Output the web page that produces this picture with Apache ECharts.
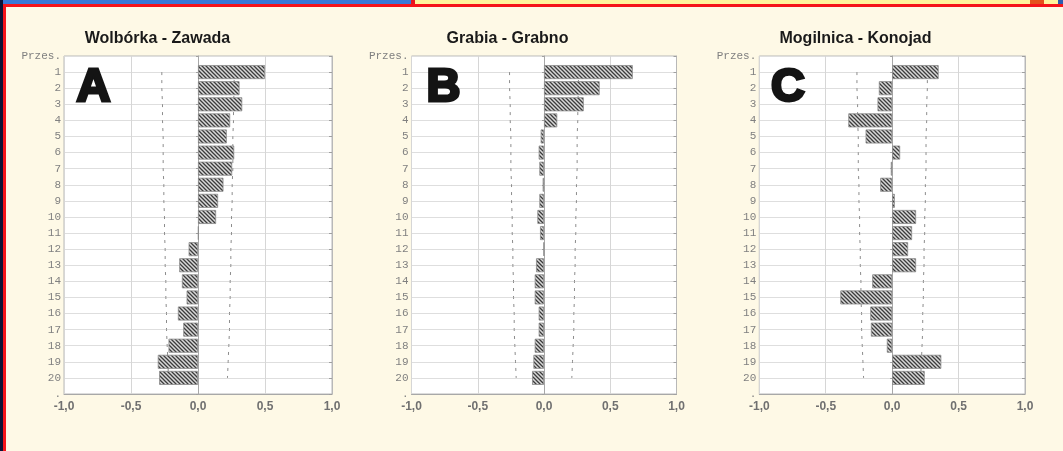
<!DOCTYPE html>
<html>
<head>
<meta charset="utf-8">
<script src="https://cdn.jsdelivr.net/npm/echarts@6/dist/echarts.min.js"></script>
<style>
html,body{margin:0;padding:0;background:#fef9e6;}
#chart{width:1063px;height:451px;}
</style>
</head>
<body>
<div id="chart"></div>
<script>
// ---- data ----
const lagLabels = ['Przes.','1','2','3','4','5','6','7','8','9','10','11','12','13','14','15','16','17','18','19','20','.'];
const xTickLabels = ['-1,0','-0,5','0,0','0,5','1,0'];
const titles = ['Wolbórka - Zawada','Grabia - Grabno','Mogilnica - Konojad'];
const panelLetters = ['A','B','C'];

const acfA = [0.50,0.31,0.33,0.24,0.215,0.27,0.255,0.19,0.15,0.135,0.005,-0.07,-0.14,-0.12,-0.085,-0.15,-0.11,-0.22,-0.30,-0.29];
const acfB = [0.67,0.42,0.30,0.10,-0.025,-0.04,-0.035,-0.01,-0.035,-0.05,-0.03,-0.003,-0.06,-0.07,-0.07,-0.04,-0.04,-0.07,-0.08,-0.09];
const acfC = [0.35,-0.10,-0.11,-0.33,-0.20,0.06,-0.01,-0.09,0.02,0.18,0.15,0.12,0.18,-0.15,-0.39,-0.165,-0.16,-0.04,0.37,0.245];

const boundA = [0.27,0.27,0.265,0.265,0.26,0.26,0.26,0.255,0.255,0.25,0.25,0.245,0.245,0.24,0.24,0.235,0.235,0.23,0.225,0.22];
const boundB = [0.26,0.26,0.255,0.255,0.25,0.25,0.25,0.245,0.245,0.24,0.24,0.235,0.235,0.23,0.23,0.225,0.225,0.22,0.215,0.21];
const boundC = [0.265,0.265,0.26,0.26,0.255,0.255,0.255,0.25,0.25,0.245,0.245,0.24,0.24,0.235,0.235,0.23,0.23,0.225,0.22,0.215];

const acfs = [acfA, acfB, acfC];
const bounds = [boundA, boundB, boundC];

// ---- styling / layout ----
function hatch(){
  const c = document.createElement('canvas');
  c.width = 4; c.height = 4;
  const g = c.getContext('2d');
  g.fillStyle = '#d8d8d8'; g.fillRect(0,0,4,4);
  g.strokeStyle = '#3c3c3c'; g.lineWidth = 1.3;
  g.beginPath();
  g.moveTo(0,0); g.lineTo(4,4);
  g.moveTo(-2,2); g.lineTo(2,6);
  g.moveTo(2,-2); g.lineTo(6,2);
  g.stroke();
  return c;
}
const pattern = {image: hatch(), repeat: 'repeat'};

const gridLefts = [64, 411.5, 759.3];
const gridWidths = [268, 265, 265.7];
const titleX = [157.5, 507.5, 855.5];
const letterX = [93.5, 443.5, 788];

const grids = [], xAxes = [], yAxes = [], series = [], graphics = [];
function pad(arr){ return ['-'].concat(arr, ['-']); }

for (let i = 0; i < 3; i++) {
  grids.push({left: gridLefts[i], top: 56, width: gridWidths[i], height: 338,
    show: true, backgroundColor: '#ffffff', borderColor: '#b8b8b8', borderWidth: 1, containLabel: false});
  xAxes.push({type: 'value', gridIndex: i, min: -1, max: 1, interval: 0.5,
    axisLine: {show: true, lineStyle: {color: '#a8a8a8'}},
    axisTick: {show: false},
    splitLine: {show: true, lineStyle: {color: '#d6d6d6', width: 1}},
    axisLabel: {color: '#707070', fontSize: 12, fontWeight: 'bold', fontFamily: 'Liberation Sans, Arial, sans-serif', margin: 7,
      formatter: v => xTickLabels[Math.round((v + 1) / 0.5)]}});
  yAxes.push({type: 'category', gridIndex: i, data: lagLabels, inverse: true, boundaryGap: false,
    axisLine: {show: true, lineStyle: {color: '#a8a8a8'}},
    axisTick: {show: true, length: 2, interval: 0, lineStyle: {color: '#a0a0a0'}},
    splitLine: {show: true, interval: 0, lineStyle: {color: '#dedede', width: 1}},
    axisLabel: {interval: 0, color: '#808080', fontSize: 11, fontFamily: 'Liberation Mono, Courier New, monospace', margin: 3}});
  yAxes.push({type: 'category', gridIndex: i, data: lagLabels, inverse: true, boundaryGap: false, position: 'right',
    axisLine: {show: true, lineStyle: {color: '#b8b8b8'}},
    axisTick: {show: true, inside: true, length: 3, interval: 0, lineStyle: {color: '#a0a0a0'}},
    splitLine: {show: false}, axisLabel: {show: false}});

  const lineStyle = {color: '#8c8c8c', width: 1, type: [3, 5]};
  series.push({type: 'line', xAxisIndex: i, yAxisIndex: 2 * i, data: pad(bounds[i]),
    symbol: 'none', lineStyle: lineStyle, silent: true, z: 2});
  series.push({type: 'line', xAxisIndex: i, yAxisIndex: 2 * i, data: pad(bounds[i].map(v => -v)),
    symbol: 'none', lineStyle: lineStyle, silent: true, z: 2});
  series.push({type: 'bar', xAxisIndex: i, yAxisIndex: 2 * i, data: pad(acfs[i]),
    barWidth: 14, itemStyle: {color: pattern, borderColor: '#8a8a8a', borderWidth: 0.8}, z: 3});

  graphics.push({type: 'text', x: titleX[i], y: 39, style: {text: titles[i], fill: '#1a1a1a',
    font: 'bold 16px "Liberation Sans", Arial, sans-serif', textAlign: 'center', textVerticalAlign: 'middle'}, z: 10});
  graphics.push({type: 'text', x: letterX[i], y: 88.5, style: {text: panelLetters[i], fill: '#141414',
    stroke: '#141414', lineWidth: 3,
    font: 'bold 47px "Liberation Sans", Arial, sans-serif', textAlign: 'center', textVerticalAlign: 'middle'}, z: 10});
}

// frame decorations
graphics.push(
  {type: 'rect', shape: {x: 0, y: 0, width: 411, height: 4}, style: {fill: '#3a78d6'}, z: 20},
  {type: 'rect', shape: {x: 411, y: 0, width: 4, height: 5}, style: {fill: '#e8141c'}, z: 20},
  {type: 'rect', shape: {x: 415, y: 0, width: 648, height: 4}, style: {fill: '#fff49e'}, z: 20},
  {type: 'rect', shape: {x: 1030, y: 0, width: 14, height: 4}, style: {fill: '#e5501c'}, z: 21},
  {type: 'rect', shape: {x: 1058, y: 0, width: 5, height: 4}, style: {fill: '#2c5cb0'}, z: 21},
  {type: 'rect', shape: {x: 0, y: 4, width: 1063, height: 3}, style: {fill: '#f5141a'}, z: 20},
  {type: 'rect', shape: {x: 0, y: 0, width: 3, height: 451}, style: {fill: '#0d1235'}, z: 20},
  {type: 'rect', shape: {x: 3, y: 4, width: 3, height: 447}, style: {fill: '#f5141a'}, z: 20}
);

const chart = echarts.init(document.getElementById('chart'), null, {renderer: 'canvas'});
chart.setOption({
  backgroundColor: '#fef9e6',
  animation: false,
  grid: grids,
  xAxis: xAxes,
  yAxis: yAxes,
  series: series,
  graphic: graphics
});
</script>
</body>
</html>
